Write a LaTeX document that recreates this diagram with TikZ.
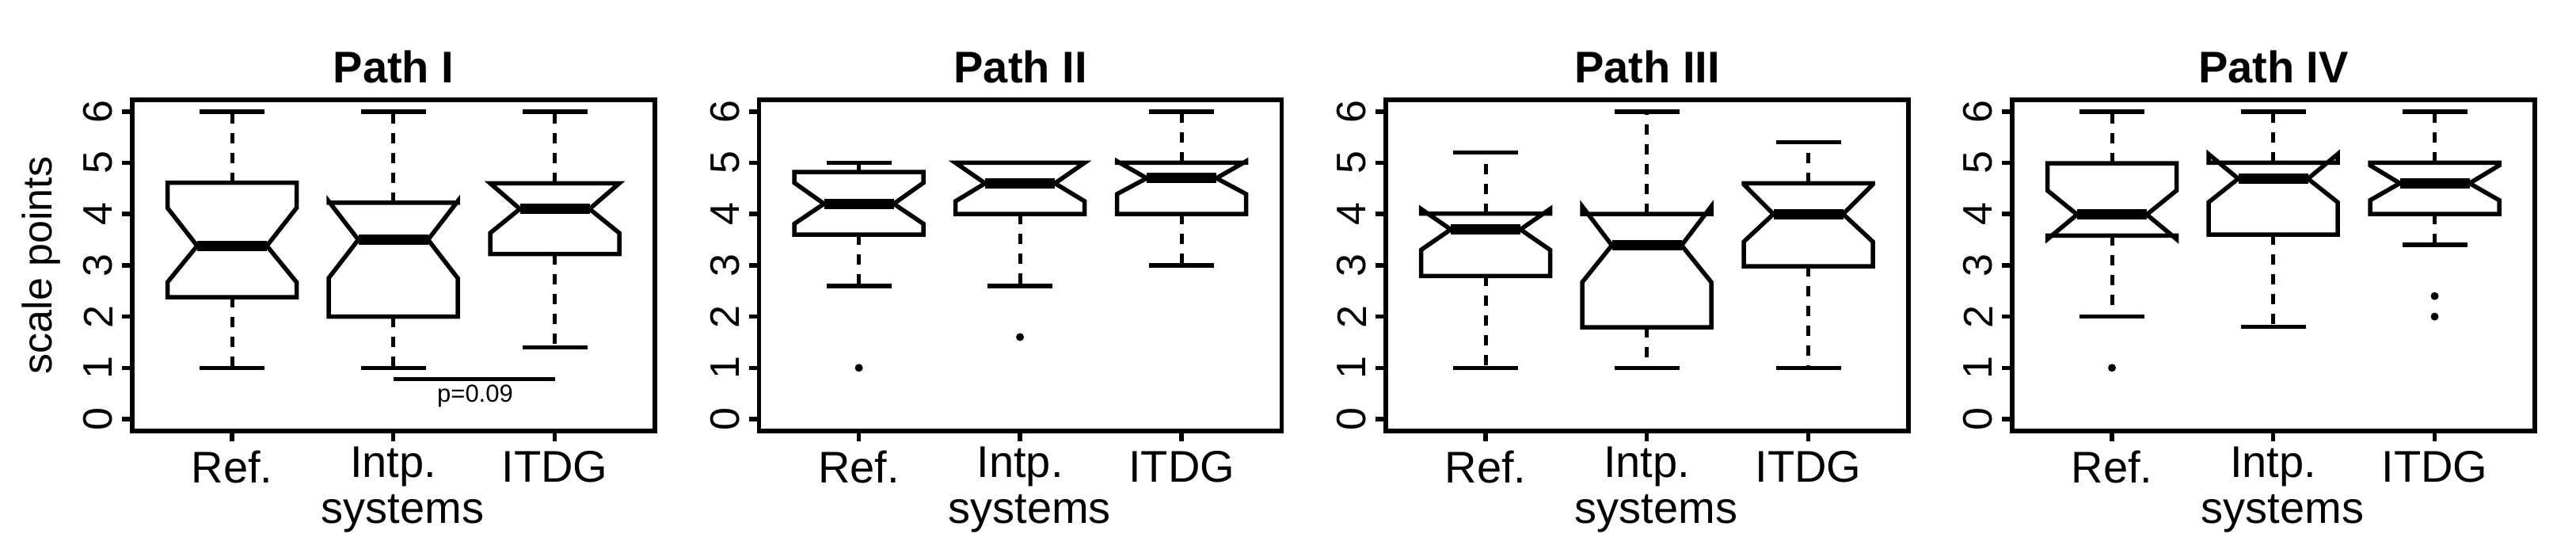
\documentclass[tikz,border=0pt]{standalone}
\usepackage{fontspec}
\setmainfont{Liberation Sans}
\newcommand\bplot[8]{%
  \draw[whisk] (#1,#7)--(#1,#8); \draw[whisk] (#1,#3)--(#1,#2);
  \draw[bxl] (#1-41,#8)--(#1+41,#8); \draw[bxl] (#1-41,#2)--(#1+41,#2);
  \draw[bxl] (#1-81.5,#3)--(#1-81.5,#4)--(#1-44,#5)--(#1-81.5,#6)--(#1-81.5,#7)--(#1+81.5,#7)--(#1+81.5,#6)--(#1+44,#5)--(#1+81.5,#4)--(#1+81.5,#3)--cycle;
  \draw[medl] (#1-44,#5)--(#1+44,#5);}
\newcommand\panel[1]{%
  \draw[bxl] (0,-0.23) rectangle (660,6.23);
  \foreach \v in {0,...,6}{\draw[bxl] (0,\v)--(-13,\v);
    \node[rotate=90,font=\fontsize{52}{56}\selectfont] at (-43,\v) {\v};}
  \foreach \gx/\t in {126/Ref.,329.5/Intp.,533.5/ITDG}{\draw[bxl] (\gx,-0.23)--(\gx,-0.43);
    \node[font=\fontsize{56}{60}\selectfont] at (\gx,-0.93) {\t};}
  \node[font=\fontsize{56}{60}\selectfont] at (341.5,-1.84) {systems};
  \node[font=\fontsize{56}{60}\selectfont\bfseries] at (330,6.87) {#1};}
\begin{document}
\begin{tikzpicture}[x=1pt,y=64.7pt,
  bxl/.style={line width=5.5pt},
  medl/.style={line width=13pt},
  whisk/.style={line width=5pt,dash pattern=on 13pt off 12pt},
  pt/.style={fill=black}]
\useasboundingbox (0,-2.612) rectangle (3253,8.176);
\begin{scope}[xshift=167pt]
  \panel{Path I}
  \bplot{126}{1}{2.38}{2.67}{3.38}{4.12}{4.61}{6}
  \bplot{329.5}{1}{2.0}{2.75}{3.50}{4.25}{4.22}{6}
  \bplot{533.5}{1.4}{3.22}{3.63}{4.10}{4.6}{4.6}{6}
  \draw[bxl] (329.5,0.78)--(533.5,0.78);
  \node[font=\fontsize{31}{34}\selectfont] at (433,0.45) {p=0.09};
  \node[rotate=90,font=\fontsize{52}{56}\selectfont] at (-115,3) {scale points};
\end{scope}
\begin{scope}[xshift=958.6pt]
  \panel{Path II}
  \bplot{126}{2.6}{3.6}{3.81}{4.2}{4.61}{4.82}{5.0}
  \fill (126,1) circle (5pt);
  \bplot{329.5}{2.6}{4.0}{4.25}{4.6}{5.0}{5.0}{5.0}
  \fill (329.5,1.6) circle (5pt);
  \bplot{533.5}{3.0}{4.0}{4.39}{4.70}{5.03}{5.0}{6}
\end{scope}
\begin{scope}[xshift=1750pt]
  \panel{Path III}
  \bplot{126}{1}{2.79}{3.30}{3.70}{4.10}{4.01}{5.2}
  \bplot{329.5}{1}{1.79}{2.67}{3.39}{4.15}{4.0}{6}
  \bplot{533.5}{1}{2.98}{3.46}{4.0}{4.58}{4.60}{5.4}
\end{scope}
\begin{scope}[xshift=2541pt]
  \panel{Path IV}
  \bplot{126}{2.0}{3.58}{3.51}{3.99}{4.46}{4.99}{6}
  \fill (126,1) circle (5pt);
  \bplot{329.5}{1.8}{3.6}{4.23}{4.69}{5.17}{5.0}{6}
  \bplot{533.5}{3.4}{4.0}{4.27}{4.60}{4.95}{5.0}{6}
  \fill (533.5,2.0) circle (5pt);
  \fill (533.5,2.4) circle (5pt);
\end{scope}
\end{tikzpicture}
\end{document}
